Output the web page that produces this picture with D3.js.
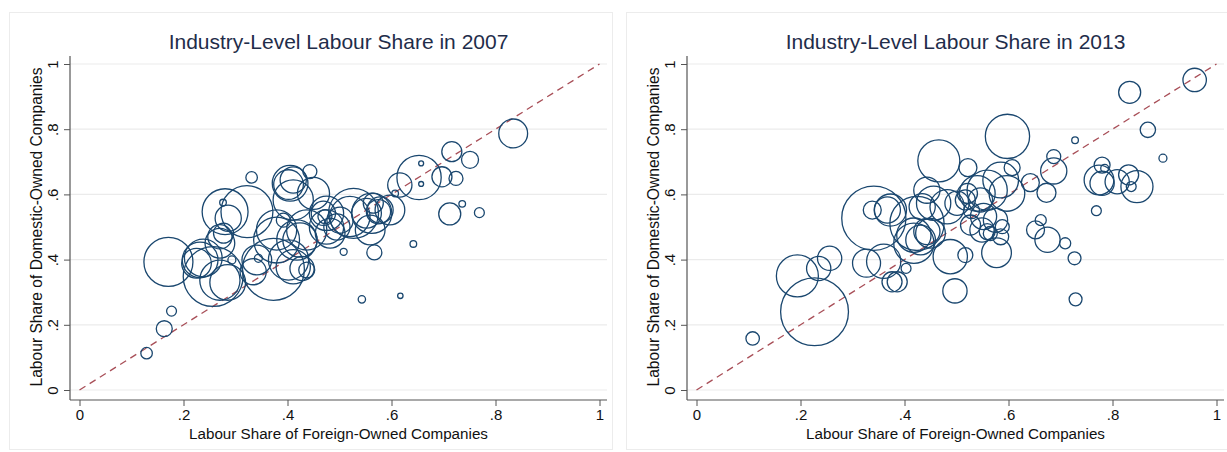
<!DOCTYPE html>
<html>
<head>
<meta charset="utf-8">
<script src="https://cdn.jsdelivr.net/npm/d3@7"></script>
<style>
  html, body { margin: 0; padding: 0; background: #fff; }
  svg { display: block; }
  text { font-family: "Liberation Sans", Arial, Helvetica, sans-serif; }
</style>
</head>
<body>
<svg id="chart" width="1227" height="452"></svg>
<script>
// ---------- data ----------
const tickValues = [0, 0.2, 0.4, 0.6, 0.8, 1];
const tickLabels = ["0", ".2", ".4", ".6", ".8", "1"];
const titles = ["Industry-Level Labour Share in 2007", "Industry-Level Labour Share in 2013"];
const xTitle = "Labour Share of Foreign-Owned Companies";
const yTitle = "Labour Share of Domestic-Owned Companies";

// 2007
const foreign2007 = [
  .129,.163,.177,.171,.232,.225,.238,.257,.270,.285,
  .270,.270,.277,.276,.280,.286,.322,.331,.293,.341,
  .344,.334,.373,.379,.379,.392,.402,.411,.428,.437,
  .405,.411,.402,.443,.411,.450,.418,.424,.437,.469,
  .475,.472,.475,.495,.482,.501,.520,.527,.508,.552,
  .562,.565,.575,.578,.597,.559,.567,.543,.617,.642,
  .607,.616,.653,.657,.657,.697,.724,.716,.751,.712,
  .736,.769,.834];
const domestic2007 = [
  .113,.188,.242,.393,.399,.389,.405,.348,.337,.330,
  .470,.450,.481,.575,.547,.527,.547,.652,.399,.399,
  .404,.363,.370,.491,.460,.521,.399,.378,.373,.368,
  .634,.644,.630,.670,.583,.603,.460,.460,.491,.542,
  .542,.532,.500,.500,.481,.521,.532,.542,.424,.542,
  .542,.573,.547,.552,.552,.491,.422,.278,.289,.448,
  .603,.629,.652,.695,.632,.654,.649,.731,.706,.540,
  .571,.544,.787];
const weight2007 = [
  2.7,5.2,2.0,49,26,18,29,73,33,26,
  12,18,8.2,0.9,43,14,55,2.7,1.3,18,
  1.3,14,78,33,43,4,33,24,12,5.2,
  26,14,18,4,33,21,33,24,33,12,
  24,4,24,14,18,14,33,51,1,18,
  33,8.2,12,14,18,18,4.6,1.1,0.6,0.9,
  0.9,12,40,0.5,0.5,8.2,4,8.2,5.9,9.9,
  0.9,2,17];

// 2013
const foreign2013 = [
  .108,.227,.194,.235,.256,.327,.360,.376,.386,.403,
  .341,.338,.367,.373,.424,.418,.431,.443,.450,.443,
  .434,.456,.466,.482,.501,.488,.517,.497,.522,.521,
  .517,.540,.546,.559,.529,.527,.552,.549,.559,.565,
  .575,.585,.588,.577,.585,.597,.607,.598,.642,.652,
  .662,.675,.673,.687,.687,.709,.727,.729,.728,.769,
  .780,.785,.774,.780,.809,.831,.836,.847,.868,.897,
  .833,.958,.418];
const domestic2013 = [
  .158,.240,.350,.373,.404,.389,.395,.332,.332,.373,
  .527,.552,.552,.552,.511,.450,.460,.486,.481,.613,
  .562,.573,.703,.562,.573,.409,.414,.304,.682,.603,
  .583,.603,.583,.613,.550,.506,.532,.491,.486,.480,
  .521,.470,.501,.421,.644,.603,.682,.778,.636,.491,
  .521,.461,.605,.672,.716,.450,.404,.278,.766,.550,
  .690,.680,.644,.634,.639,.660,.624,.624,.798,.711,
  .913,.951,.475];
const weight2013 = [
  3.7,94,36,12,12,16,24,8.2,8.2,2,
  84,6.6,14,21,60,33,18,14,18,14,
  14,24,36,24,12,24,4.6,12,6.6,8.2,
  8.2,26,12,33,5.2,8.2,14,12,5.2,4,
  12,5.2,4,18,26,26,5.2,40,6.6,6.6,
  2.5,13,7.4,14,4,2.5,3.4,3.4,0.9,2,
  5.2,1.3,18,12,12,8.2,2,21,4.8,1.3,
  9.9,11.2,24];

const panelsData = [
  { title: titles[0], fx: foreign2007, dy: domestic2007, w: weight2007 },
  { title: titles[1], fx: foreign2013, dy: domestic2013, w: weight2013 }
];

// ---------- drawing ----------
const svg = d3.select("#chart");
const navy = "#1a476f";
const rScale = d3.scaleSqrt().domain([0, 100]).range([0, 35]);

panelsData.forEach((p, i) => {
  const ox = i * 617;
  const g = svg.append("g").attr("transform", `translate(${ox},0)`);

  // graph region outline
  g.append("rect")
    .attr("x", 9.5).attr("y", 12.5)
    .attr("width", i === 0 ? 603 : 620).attr("height", 437)
    .attr("fill", "none").attr("stroke", "#ececec").attr("stroke-width", 1);

  const x = d3.scaleLinear().domain([0, 1]).range([79.5, 599.5]);
  const y = d3.scaleLinear().domain([0, 1]).range([390, 64]);
  const left = 70, right = 607, bottom = 400, top = 56;

  // gridlines
  g.append("g").selectAll("line").data(tickValues).join("line")
    .attr("x1", left).attr("x2", right)
    .attr("y1", d => y(d)).attr("y2", d => y(d))
    .attr("stroke", "#ebebeb").attr("stroke-width", 1.2);

  // y axis
  const yAxis = d3.axisLeft(y).tickValues(tickValues)
    .tickFormat((d, k) => tickLabels[k]).tickSize(6).tickPadding(4);
  const ya = g.append("g").attr("transform", `translate(${left},0)`).call(yAxis);
  ya.select(".domain").remove();
  ya.selectAll(".tick line").attr("stroke", "#555");
  ya.selectAll(".tick text")
    .attr("x", null).attr("dy", null)
    .attr("transform", "translate(-12,0) rotate(-90)")
    .attr("text-anchor", "middle")
    .attr("font-size", 15).attr("fill", "#111");
  g.append("line").attr("x1", left).attr("x2", left).attr("y1", top).attr("y2", bottom)
    .attr("stroke", "#555").attr("stroke-width", 1.2);

  // x axis
  const xAxis = d3.axisBottom(x).tickValues(tickValues)
    .tickFormat((d, k) => tickLabels[k]).tickSize(6).tickPadding(3);
  const xa = g.append("g").attr("transform", `translate(0,${bottom})`).call(xAxis);
  xa.select(".domain").remove();
  xa.selectAll(".tick line").attr("stroke", "#555");
  xa.selectAll(".tick text").attr("font-size", 15).attr("fill", "#111");
  g.append("line").attr("x1", left).attr("x2", right).attr("y1", bottom).attr("y2", bottom)
    .attr("stroke", "#555").attr("stroke-width", 1.2);

  // 45-degree line
  g.append("line")
    .attr("x1", x(0)).attr("y1", y(0)).attr("x2", x(1)).attr("y2", y(1))
    .attr("stroke", "#a84e57").attr("stroke-width", 1.3)
    .attr("stroke-dasharray", "7,5");

  // bubbles
  const pts = p.fx.map((v, k) => ({ fx: v, dy: p.dy[k], w: p.w[k] }));
  g.append("g").selectAll("circle").data(pts).join("circle")
    .attr("cx", d => x(d.fx)).attr("cy", d => y(d.dy))
    .attr("r", d => rScale(d.w))
    .attr("fill", "none").attr("stroke", navy).attr("stroke-width", 1.3);

  // titles
  g.append("text").attr("x", (left + right) / 2).attr("y", 49)
    .attr("text-anchor", "middle").attr("font-size", 21).attr("fill", "#1f2d4a")
    .text(p.title);
  g.append("text").attr("x", (left + right) / 2).attr("y", 439)
    .attr("text-anchor", "middle").attr("font-size", 15.2).attr("fill", "#111")
    .text(xTitle);
  g.append("text")
    .attr("transform", `translate(42,${(y(0) + y(1)) / 2}) rotate(-90)`)
    .attr("text-anchor", "middle").attr("font-size", 15.6).attr("fill", "#111")
    .text(yTitle);
});
</script>
</body>
</html>
